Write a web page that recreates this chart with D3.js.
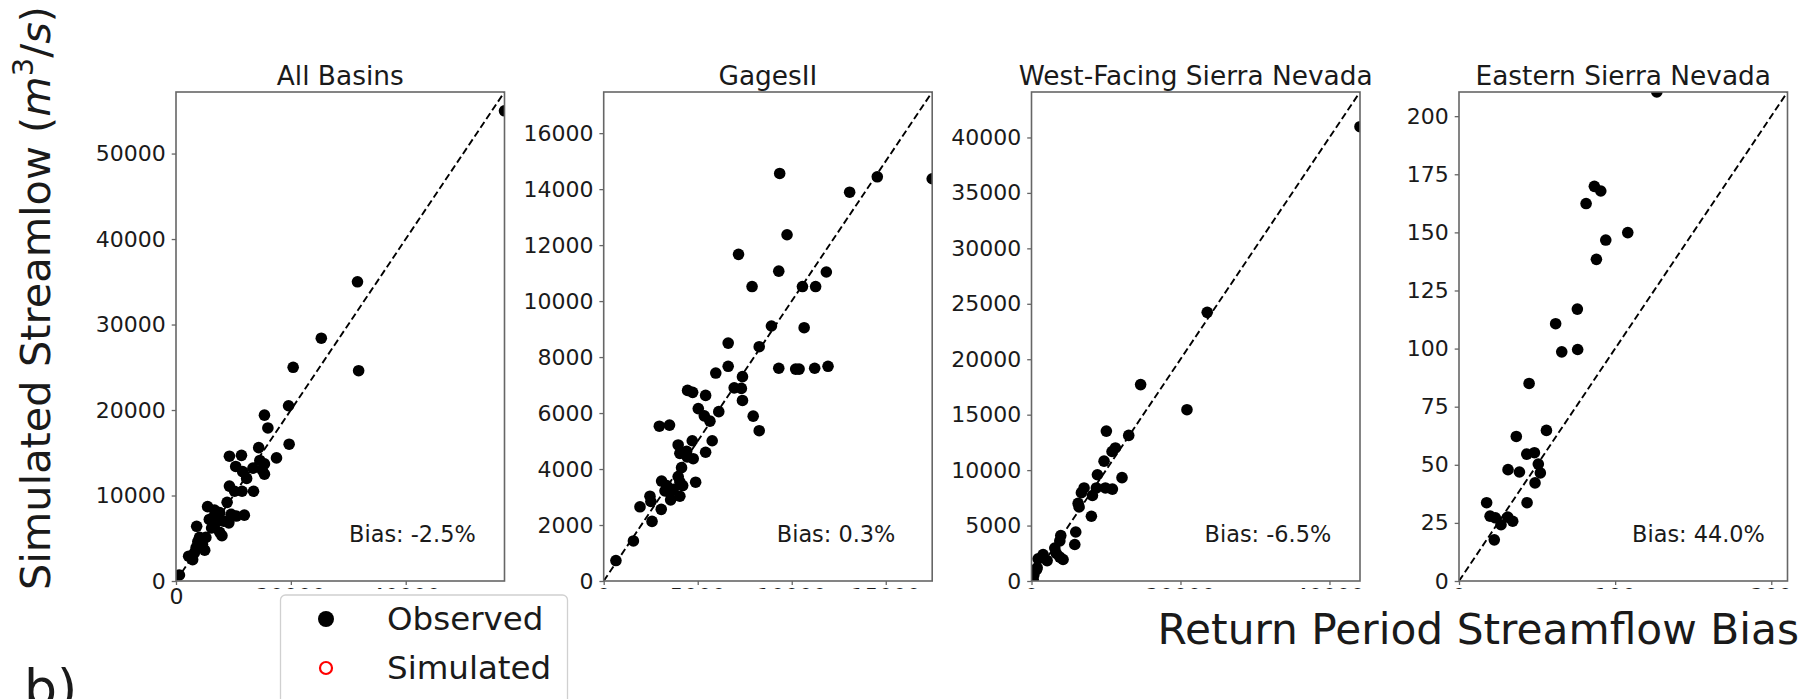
<!DOCTYPE html>
<html><head><meta charset="utf-8">
<script src="https://cdn.jsdelivr.net/npm/d3@7"></script>
<style>
body{margin:0;background:#fff;}
svg{display:block;}
text{font-family:"DejaVu Sans",sans-serif;fill:#1a1a1a;}
</style>
</head><body>
<svg id="chart" width="1805" height="699"></svg>
<script>
// ---------------- data ----------------
const panelTitles = ["All Basins", "GagesII", "West-Facing Sierra Nevada", "Eastern Sierra Nevada"];
const biasLabels = ["Bias: -2.5%", "Bias: 0.3%", "Bias: -6.5%", "Bias: 44.0%"];

// x = observed, y = simulated (m3/s)
const allBasinsObs = [57200,31600,25300,31800,20400,19600,19700,15400,16000,14400,17500,9300,11400,10400,11600,13400,14600,15400,15400,15000,9300,10200,11500,13500,8900,5500,6700,7600,9600,10500,11900,6400,5800,7300,8300,9200,6700,7600,8000,3600,4100,5200,3800,4600,3500,5000,2200,2900,600,4300,6200,7000,3200,12300];
const allBasinsSim = [55000,35000,28400,24600,25000,20500,16000,19400,17900,15600,14400,14600,14700,13400,12800,13200,14100,13700,12500,13000,11100,10500,10500,10500,9200,8700,8300,8000,7800,7600,7700,7400,7200,7200,7000,6800,6600,5700,5300,6400,5100,5100,4600,4300,3900,3600,2900,2500,700,4800,6200,7600,3300,12000];

const gagesObs = [17470,14550,13080,9360,9750,7170,9310,11840,7890,10570,11270,8920,10660,6620,8270,6620,5960,9310,10210,10390,11220,11930,7380,6940,7320,7380,7950,8270,4460,4730,5420,5030,5350,5650,6120,5770,5420,2960,3500,3960,4710,4050,4410,4760,4440,4140,4890,3080,3350,3700,3520,4050,3960,4200,3260,3560,4050,2460,2510,1930,3060,2570,1580,650];
const gagesSim = [14370,14440,13890,14560,12370,11670,11070,11040,10520,10520,10520,9110,9050,8500,8370,7670,7430,7600,7570,7570,7600,7670,7300,6900,6880,6450,5890,5370,6810,6740,6630,6160,5900,5710,6050,5010,4600,5530,5570,4860,5010,4560,4630,4370,4430,4050,3530,3570,3410,3280,3160,3540,3730,3410,3220,2900,3030,3030,2840,2650,2560,2130,1430,730];

const westObs = [44100,23590,14650,20870,13050,10050,11260,10810,9740,8850,12150,7060,8710,9920,10860,6700,8180,6260,6390,8040,3930,3800,5940,5810,3130,3350,3800,4240,1560,890,2100,670,310,220,760];
const westSim = [40970,24230,17710,15450,13130,13520,12000,11680,10810,9580,9320,8390,8390,8390,8290,7970,7710,7000,6680,5840,4100,3610,4420,3290,2970,2480,2160,1940,2390,2000,1840,1030,550,160,1190];

const eastObs = [126.7,86.7,90.8,81.4,108.1,94.0,88.0,75.8,61.9,65.8,76.0,44.9,56.0,36.7,43.4,48.3,50.8,52.1,48.7,31.4,38.7,43.6,17.7,19.9,23.3,26.9,31.2,34.4,22.6];
const eastSim = [210.4,169.8,167.8,162.4,149.9,146.7,138.4,117.0,110.7,98.6,99.6,85.0,64.8,62.2,54.6,55.2,50.3,46.5,42.2,47.9,46.9,33.7,33.7,27.9,27.2,24.2,27.5,25.7,17.7];

const yTicksAll = [0,10000,20000,30000,40000,50000];
const yTicksGages = [0,2000,4000,6000,8000,10000,12000,14000,16000];
const yTicksWest = [0,5000,10000,15000,20000,25000,30000,35000,40000];
const yTicksEast = [0,25,50,75,100,125,150,175,200];
const xTicksAll = [0,20000,40000];
const xTicksGages = [0,5000,10000,15000];
const xTicksWest = [0,20000,40000];
const xTicksEast = [0,100,200];

const legendLabels = ["Observed", "Simulated"];
const yAxisLabel = "Simulated Streamlow (";
const xAxisLabel = "Return Period Streamflow Bias";
const panelLetter = "b)";

// ---------------- build ----------------
const panels = [
  {obs: allBasinsObs, sim: allBasinsSim, yt: yTicksAll, xt: xTicksAll},
  {obs: gagesObs, sim: gagesSim, yt: yTicksGages, xt: xTicksGages},
  {obs: westObs, sim: westSim, yt: yTicksWest, xt: xTicksWest},
  {obs: eastObs, sim: eastSim, yt: yTicksEast, xt: xTicksEast}
];

const svg = d3.select("#chart");
const plotTop = 92, plotBottom = 581, pw = 328.5, ph = plotBottom - plotTop;
const lefts = [176, 603.7, 1031.5, 1459];
const spine = "#666";
const fmt = d3.format("d");

const defs = svg.append("defs");
defs.append("clipPath").attr("id", "xlabclip")
  .append("rect").attr("x", 0).attr("y", 0).attr("width", 1805).attr("height", 589);

panels.forEach((p, i) => {
  const left = lefts[i];
  const maxV = d3.max([d3.max(p.obs), d3.max(p.sim)]);
  const x = d3.scaleLinear().domain([0, maxV]).range([left, left + pw]);
  const y = d3.scaleLinear().domain([0, maxV]).range([plotBottom, plotTop]);

  defs.append("clipPath").attr("id", "clip" + i)
    .append("rect").attr("x", left).attr("y", plotTop).attr("width", pw).attr("height", ph);

  const g = svg.append("g");
  const plot = g.append("g").attr("clip-path", `url(#clip${i})`);

  plot.append("line")
    .attr("x1", x(0)).attr("y1", y(0)).attr("x2", x(maxV)).attr("y2", y(maxV))
    .attr("stroke", "#000").attr("stroke-width", 1.9).attr("stroke-dasharray", "7,3.5");

  plot.selectAll("circle").data(d3.range(p.obs.length)).join("circle")
    .attr("cx", k => x(p.obs[k])).attr("cy", k => y(p.sim[k]))
    .attr("r", 5.8).attr("fill", "#000");

  g.append("rect").attr("x", left).attr("y", plotTop).attr("width", pw).attr("height", ph)
    .attr("fill", "none").attr("stroke", spine).attr("stroke-width", 1.6);

  const ya = g.append("g").attr("transform", `translate(${left},0)`)
    .call(d3.axisLeft(y).tickValues(p.yt).tickFormat(fmt).tickSize(4.3).tickPadding(6).tickSizeOuter(0));
  ya.select(".domain").remove();
  ya.selectAll("line").attr("stroke", spine).attr("stroke-width", 1.3);
  ya.selectAll("text").attr("font-size", "22px").attr("fill", "#1a1a1a").attr("font-family", "DejaVu Sans");

  const xa = g.append("g").attr("transform", `translate(0,${plotBottom})`)
    .call(d3.axisBottom(x).tickValues(p.xt).tickFormat(fmt).tickSize(4).tickPadding(2.9).tickSizeOuter(0));
  xa.select(".domain").remove();
  xa.selectAll("line").attr("stroke", spine).attr("stroke-width", 1.3);
  xa.selectAll("text").attr("font-size", "22px").attr("fill", "#1a1a1a").attr("font-family", "DejaVu Sans");
  // in the source most x tick labels are hidden below y=589; keep only the first panel's 0 whole
  xa.selectAll(".tick").filter(d => !(i === 0 && d === 0)).select("text").remove();
  const xl = svg.append("g").attr("clip-path", "url(#xlabclip)");
  xl.selectAll("text").data(p.xt.filter(d => !(i === 0 && d === 0))).join("text")
    .attr("x", d => x(d)).attr("y", plotBottom + 4 + 2.9).attr("dy", "0.71em")
    .attr("text-anchor", "middle").attr("font-size", "22px").text(d => fmt(d));

  g.append("text").attr("x", left + pw / 2).attr("y", plotTop - 7)
    .attr("text-anchor", "middle").attr("font-size", "26.4px").text(panelTitles[i]);

  g.append("text").attr("x", left + 0.527 * pw).attr("y", 542)
    .attr("font-size", "22.4px").text(biasLabels[i]);
});

const yl = svg.append("text").attr("transform", "translate(50,298) rotate(-90)")
  .attr("text-anchor", "middle").attr("font-size", "41.5px");
yl.append("tspan").text(yAxisLabel);
yl.append("tspan").attr("font-style", "italic").text("m");
yl.append("tspan").attr("font-size", "29px").attr("dy", -17).text("3");
yl.append("tspan").attr("dy", 17).text("/");
yl.append("tspan").attr("font-style", "italic").text("s");
yl.append("tspan").text(")");

svg.append("text").attr("x", 1799).attr("y", 644).attr("text-anchor", "end")
  .attr("font-size", "42.3px").text(xAxisLabel);

const lg = svg.append("g");
lg.append("rect").attr("x", 280.5).attr("y", 595).attr("width", 287).attr("height", 120)
  .attr("rx", 5).attr("fill", "#fff").attr("fill-opacity", 0.8).attr("stroke", "#d0d0d0").attr("stroke-width", 1.3);
lg.append("circle").attr("cx", 326).attr("cy", 619).attr("r", 8).attr("fill", "#000");
lg.append("circle").attr("cx", 326).attr("cy", 668).attr("r", 6).attr("fill", "none").attr("stroke", "red").attr("stroke-width", 2.2);
lg.selectAll("text.leg").data(legendLabels).join("text").attr("class", "leg")
  .attr("x", 387).attr("y", (d, k) => 618 + k * 49).attr("dy", "0.36em")
  .attr("font-size", "32.5px").text(d => d);

svg.append("text").attr("x", 24).attr("y", 706).attr("font-size", "52px").text(panelLetter);
</script>
</body></html>
